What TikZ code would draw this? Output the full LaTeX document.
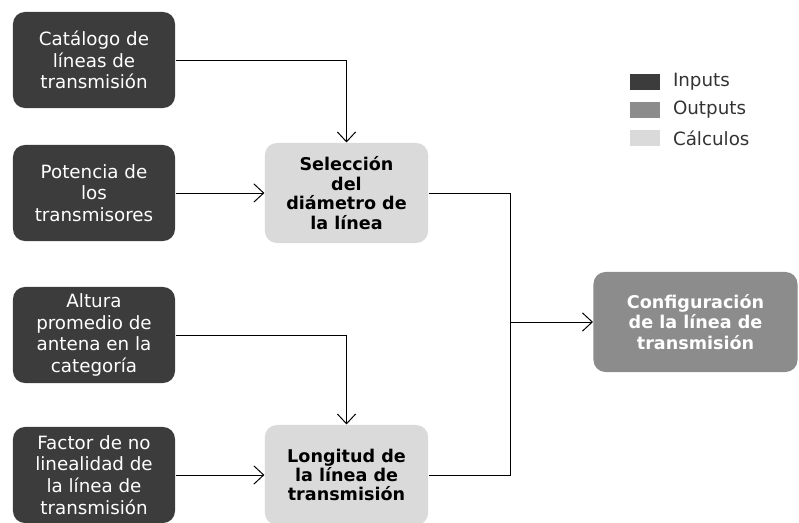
\documentclass[tikz,border=0pt]{standalone}
\usepackage{fontspec}
\setmainfont{DejaVu Sans}
\usetikzlibrary{arrows.meta,positioning}
\definecolor{ingray}{HTML}{3C3C3C}
\definecolor{outgray}{HTML}{8C8C8C}
\definecolor{calcgray}{HTML}{DADADA}
\definecolor{legtext}{HTML}{333333}
\tikzset{
	inbox/.style={fill=ingray,text=white,rounded corners=0.3cm,minimum width=4.05cm,minimum height=2.4cm,inner sep=0pt,align=center,font=\fontsize{13}{15.5}\selectfont},
	calcbox/.style={fill=calcgray,text=black,rounded corners=0.3cm,minimum width=4.08cm,minimum height=2.5cm,inner sep=0pt,align=center,font=\fontsize{12.5}{13.8}\selectfont\bfseries},
	outbox/.style={fill=outgray,text=white,rounded corners=0.3cm,minimum width=5.1cm,minimum height=2.5cm,inner sep=0pt,align=center,font=\fontsize{12.5}{14.5}\selectfont\bfseries},
	legkey/.style={minimum width=0.75cm,minimum height=0.38cm,inner sep=0pt},
	legname/.style={right=0.3cm of #1,text=legtext,font=\fontsize{13}{15}\selectfont,inner sep=0pt}
}
\begin{document}
\begin{tikzpicture}[>={Straight Barb[length=7pt,width=13pt]},x=0.025cm,y=-0.025cm,line width=0.7pt]
			\useasboundingbox (0,0) rectangle (799,523);
			% entradas
			\node[inbox] (cat) at (94,60) {Catálogo de\\líneas de\\transmisión};
			\node[inbox] (pot) at (94,193) {Potencia de\\los\\transmisores};
			\node[inbox] (alt) at (94,335) {Altura\\promedio de\\antena en la\\categoría};
			\node[inbox] (fac) at (94,475) {Factor de no\\linealidad de\\la línea de\\transmisión};
			% calculos
			\node[calcbox] (sel) at (346.5,193) {Selección\\del\\diámetro de\\la línea};
			\node[calcbox] (lon) at (346.5,475) {Longitud de\\la línea de\\transmisión};
			% salida
			\node[outbox] (conf) at (695.5,322) {Configuración\\de la línea de\\transmisión};
			\coordinate (junc) at (510,322);
			\draw[->] (cat.east) -| (sel.north);
			\draw[->] (pot) -- (sel);
			\draw[->] (alt.east) -| (lon.north);
			\draw[->] (fac) -- (lon);
			\draw (sel.east) -| (junc) |- (lon.east);
			\draw[->] (junc) -- (conf);
			% leyenda
			\node[legkey,fill=ingray] (kin) at (645,82) {};
			\node[legkey,fill=outgray] (kout) at (645,110) {};
			\node[legkey,fill=calcgray] (kcalc) at (645,138) {};
			\node[legname=kin] (tin) {Inputs};
			\node[legname=kout] (tout) {Outputs};
			\node[legname=kcalc] (tcalc) {Cálculos};
\end{tikzpicture}
\end{document}
